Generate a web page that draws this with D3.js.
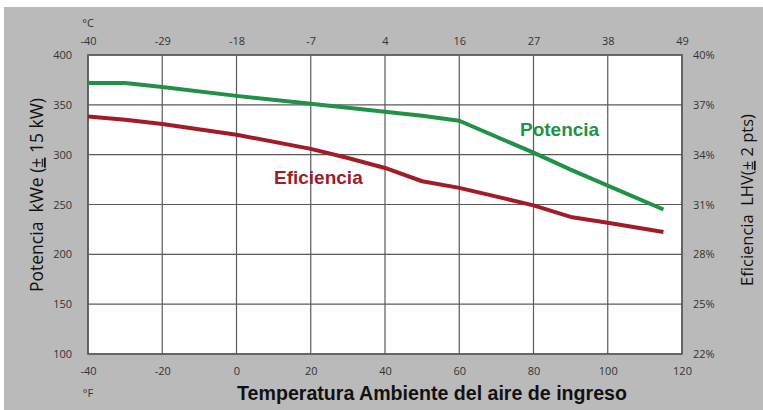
<!DOCTYPE html>
<html>
<head>
<meta charset="utf-8">
<script src="https://cdn.jsdelivr.net/npm/d3@7"></script>
<style>
  body { margin: 0; background: #fff; }
  .tick text { font-family: "Open Sans", sans-serif; font-size: 11px; fill: #333; }
</style>
</head>
<body>
<div id="graph"></div>
<script>
// data
var tempF = [-40, -30, -20, 0, 20, 30, 40, 50, 60, 80, 90, 100, 115];
var potencia = [372, 372, 368, 359, 351, 347, 343, 339, 334, 302, 285, 269, 245];
var eficiencia = [36.3, 36.1, 35.85, 35.2, 34.35, 33.8, 33.2, 32.4, 32.0, 30.95, 30.25, 29.9, 29.35];

var fTicks = [-40, -20, 0, 20, 40, 60, 80, 100, 120];
var cTicks = [-40, -29, -18, -7, 4, 16, 27, 38, 49];
var kwTicks = [100, 150, 200, 250, 300, 350, 400];
var pctTicks = [22, 25, 28, 31, 34, 37, 40];

var W = 763, H = 410;
var margin = {top: 55, right: 81, bottom: 56, left: 88};
var width = W - margin.left - margin.right,
    height = H - margin.top - margin.bottom;

var svg = d3.select("#graph").append("svg")
    .attr("width", W)
    .attr("height", H);

// gray panel
svg.append("rect")
    .attr("x", 4).attr("y", 7)
    .attr("width", W - 4).attr("height", H - 7)
    .attr("fill", "#bbbaba");

var g = svg.append("g")
    .attr("transform", "translate(" + margin.left + "," + margin.top + ")");

var xScale = d3.scaleLinear().domain([-40, 120]).range([0, width]);
var yScale = d3.scaleLinear().domain([100, 400]).range([height, 0]);
var yPct = d3.scaleLinear().domain([22, 40]).range([height, 0]);
// top axis shares the gridline positions
var xC = d3.scalePoint().domain(cTicks).range([0, width]);

g.append("rect")
    .attr("width", width).attr("height", height)
    .attr("fill", "#fff");

// grid
g.selectAll(".vgrid")
    .data(fTicks)
    .enter().append("line")
    .attr("x1", function(d) { return xScale(d); })
    .attr("x2", function(d) { return xScale(d); })
    .attr("y1", 0).attr("y2", height)
    .attr("stroke", "#5a5a5a").attr("stroke-width", 1.2);

g.selectAll(".hgrid")
    .data(kwTicks)
    .enter().append("line")
    .attr("y1", function(d) { return yScale(d); })
    .attr("y2", function(d) { return yScale(d); })
    .attr("x1", 0).attr("x2", width)
    .attr("stroke", "#5a5a5a").attr("stroke-width", 1.2);

g.append("rect")
    .attr("width", width).attr("height", height)
    .attr("fill", "none")
    .attr("stroke", "#5a5a5a").attr("stroke-width", 1.6);

// axes (no domain / tick lines, labels only)
function clean(sel) {
  sel.select(".domain").remove();
  sel.selectAll(".tick line").remove();
}

g.append("g")
    .attr("transform", "translate(0," + height + ")")
    .call(d3.axisBottom(xScale).tickValues(fTicks).tickSize(0).tickPadding(13).tickFormat(String))
    .call(clean);

g.append("g")
    .call(d3.axisTop(xC).tickSize(0).tickPadding(10).tickFormat(String))
    .call(clean);

g.append("g")
    .call(d3.axisLeft(yScale).tickValues(kwTicks).tickSize(0).tickPadding(16).tickFormat(String))
    .call(clean);

g.append("g")
    .attr("transform", "translate(" + width + ",0)")
    .call(d3.axisRight(yPct).tickValues(pctTicks).tickSize(0).tickPadding(11)
      .tickFormat(function(d) { return d + "%"; }))
    .call(clean);

// lines
var linePot = d3.line()
    .x(function(d, i) { return xScale(tempF[i]); })
    .y(function(d) { return yScale(d); });

var lineEf = d3.line()
    .x(function(d, i) { return xScale(tempF[i]); })
    .y(function(d) { return yPct(d); });

g.append("path")
    .datum(potencia)
    .attr("d", linePot)
    .attr("fill", "none")
    .attr("stroke", "#1f9246")
    .attr("stroke-width", 4)
    .attr("stroke-linejoin", "round");

g.append("path")
    .datum(eficiencia)
    .attr("d", lineEf)
    .attr("fill", "none")
    .attr("stroke", "#a11c27")
    .attr("stroke-width", 4)
    .attr("stroke-linejoin", "round");

// series labels
svg.append("text")
    .attr("x", 520).attr("y", 136)
    .style("font-family", "'Liberation Sans', Arial, sans-serif")
    .style("font-weight", "bold").style("font-size", "19px")
    .attr("fill", "#1f9246")
    .text("Potencia");

svg.append("text")
    .attr("x", 274).attr("y", 184)
    .style("font-family", "'Liberation Sans', Arial, sans-serif")
    .style("font-weight", "bold").style("font-size", "19px")
    .attr("fill", "#a11c27")
    .text("Eficiencia");

// unit labels
svg.append("text")
    .attr("x", 88).attr("y", 27)
    .style("text-anchor", "middle")
    .style("font-family", "'Open Sans', sans-serif").style("font-size", "11px")
    .attr("fill", "#333")
    .text("°C");

svg.append("text")
    .attr("x", 88).attr("y", 397)
    .style("text-anchor", "middle")
    .style("font-family", "'Open Sans', sans-serif").style("font-size", "11px")
    .attr("fill", "#333")
    .text("°F");

// axis titles
svg.append("text")
    .attr("x", 432).attr("y", 400)
    .style("text-anchor", "middle")
    .style("font-family", "'Liberation Sans', Arial, sans-serif")
    .style("font-weight", "bold").style("font-size", "19.6px")
    .attr("fill", "#111")
    .text("Temperatura Ambiente del aire de ingreso");

var yl = svg.append("text")
    .attr("transform", "translate(43,195) rotate(-90)")
    .style("text-anchor", "middle")
    .style("font-family", "'Open Sans', sans-serif").style("font-size", "17.5px")
    .style("white-space", "pre")
    .attr("fill", "#111");
yl.append("tspan").text("Potencia  kWe (");
yl.append("tspan").style("text-decoration", "underline").text("±");
yl.append("tspan").text(" 15 kW)");

var yr = svg.append("text")
    .attr("transform", "translate(753,200) rotate(-90)")
    .style("text-anchor", "middle")
    .style("font-family", "'Open Sans', sans-serif").style("font-size", "16.5px")
    .style("white-space", "pre")
    .attr("fill", "#111");
yr.append("tspan").text("Eficiencia  LHV(");
yr.append("tspan").style("text-decoration", "underline").text("±");
yr.append("tspan").text(" 2 pts)");
</script>
</body>
</html>
